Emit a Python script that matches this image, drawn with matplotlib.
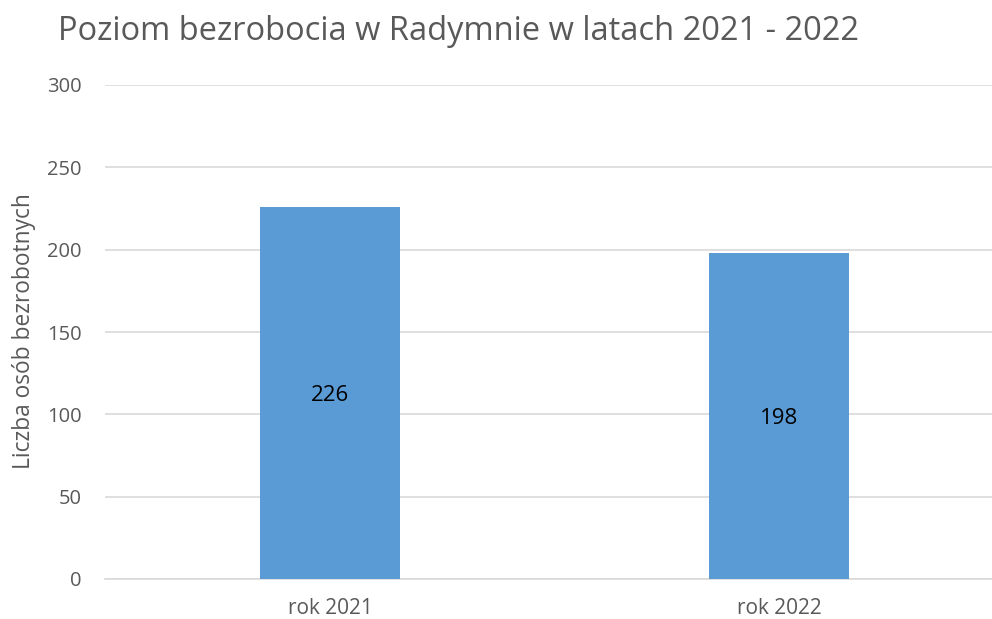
import numpy as np
import matplotlib.pyplot as plt

plt.rcParams['font.family'] = ['Open Sans', 'DejaVu Sans']

categories = ['rok 2021', 'rok 2022']
values = [226, 198]
yticks = [0, 50, 100, 150, 200, 250, 300]

gray = '#595959'
W, H = 992, 619

fig = plt.figure(figsize=(W / 100, H / 100), dpi=100)
# axes placed in pixel coordinates
left, right, top, bottom = 105, 992, 85, 579
ax = fig.add_axes([left / W, 1 - bottom / H, (right - left) / W, (bottom - top) / H])

x = np.arange(len(categories))
bars = ax.bar(x, values, width=0.31, color='#5B9BD5', zorder=3)

ax.set_xlim(-(330 - left) / 449, (right - 330) / 449)
ax.set_ylim(0, 300)
ax.set_yticks(yticks)
ax.set_xticks(x)
ax.set_xticklabels(categories)
ax.tick_params(axis='y', length=0, labelsize=14.5, colors=gray, pad=17)
ax.tick_params(axis='x', length=0, labelsize=15, colors=gray, pad=14)

ax.yaxis.grid(True, color='#d9d9d9', linewidth=1.2, zorder=0)
for s in ['top', 'right', 'left']:
    ax.spines[s].set_visible(False)
ax.spines['bottom'].set_color('#d9d9d9')
ax.spines['bottom'].set_linewidth(1.2)

for b, v in zip(bars, values):
    ax.text(b.get_x() + b.get_width() / 2, v / 2, str(v), ha='center',
            va='center_baseline', fontsize=16, color='black', zorder=4)

fig.text(24 / W, 1 - 331 / H, 'Liczba osób bezrobotnych', rotation=90,
         ha='center', va='center', fontsize=16.4, color=gray)
fig.text(58 / W, 1 - 31 / H, 'Poziom bezrobocia w Radymnie w latach 2021 - 2022',
         ha='left', va='center', fontsize=23.5, color=gray)

fig.savefig('out.png', dpi=100)
